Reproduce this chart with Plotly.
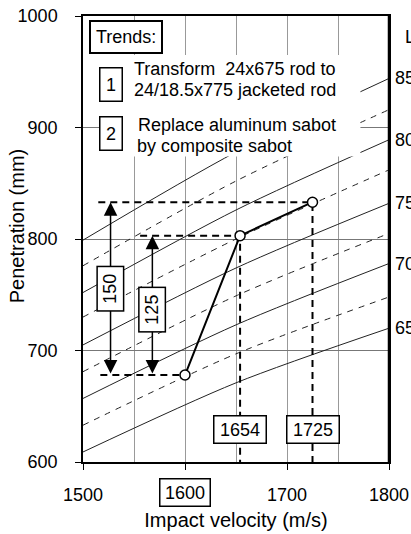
import plotly.graph_objects as go

# iso rod-length curves: penetration (mm) read at 1500 / 1650 / 1800 m/s
curve_velocity = [1500, 1650, 1800]
rod_lengths = [850, 825, 800, 775, 750, 725, 700, 675, 650]
curve_penetration = [
    [799, 878, 944],
    [776, 852, 916],
    [752, 826, 889],
    [730, 800, 862],
    [705, 774, 832],
    [681, 749, 805],
    [657, 723, 778],
    [633, 697, 748],
    [609, 671, 720],
]

# the three design points
impact_velocity = [1600, 1654, 1725]
penetration = [678, 803, 833]

# gains shown with the double arrows
gain_labels = ["150", "125"]
gain_top = [833, 803]
gain_x = [1527, 1568]

x_ticks = [1500, 1600, 1700, 1800]
y_ticks = [600, 700, 800, 900, 1000]

FONT = "Liberation Sans, Arial, sans-serif"

fig = go.Figure()

# iso-length curves, solid every 50 mm, dashed in between
for length, pen in zip(rod_lengths, curve_penetration):
    fig.add_trace(go.Scatter(
        x=curve_velocity, y=pen, mode="lines",
        line=dict(color="#222", width=1, shape="spline", smoothing=0.8,
                  dash="solid" if length % 50 == 0 else "6px,6px"),
        hoverinfo="skip",
    ))

# dashed guide lines from the points
base_y = penetration[0]
fig.add_trace(go.Scatter(
    x=[1517, impact_velocity[0]], y=[base_y, base_y], mode="lines",
    line=dict(color="black", width=2, dash="7px,5px"), hoverinfo="skip"))
fig.add_trace(go.Scatter(
    x=[1556, impact_velocity[1], impact_velocity[1]],
    y=[penetration[1], penetration[1], 600], mode="lines",
    line=dict(color="black", width=2, dash="7px,5px"), hoverinfo="skip"))
fig.add_trace(go.Scatter(
    x=[1515, impact_velocity[2], impact_velocity[2]],
    y=[penetration[2], penetration[2], 600], mode="lines",
    line=dict(color="black", width=2, dash="7px,5px"), hoverinfo="skip"))

# trend line with open circles
fig.add_trace(go.Scatter(
    x=impact_velocity, y=penetration, mode="lines+markers",
    line=dict(color="black", width=2),
    marker=dict(symbol="circle", size=10, color="white",
                line=dict(color="black", width=1.5)),
    hoverinfo="skip",
))

# white area behind the trend notes
fig.add_shape(type="rect", x0=1518, x1=1772, y0=874, y1=965,
              xref="x", yref="y", fillcolor="white", line_width=0,
              layer="above")
# heavier right frame
fig.add_shape(type="line", x0=1, x1=1, y0=0, y1=1, xref="paper",
              yref="paper", line=dict(color="black", width=2.5))

annotations = []

# double arrows and their boxed values
for gx, top in zip(gain_x, gain_top):
    annotations.append(dict(
        x=gx, y=top, ax=gx, ay=base_y, xref="x", yref="y",
        axref="x", ayref="y", text="", showarrow=True,
        arrowhead=2, startarrowhead=2, arrowside="end+start",
        arrowsize=1.8, startarrowsize=1.8, arrowwidth=1.5,
        arrowcolor="black"))
for gx, y, lab in zip(gain_x, [755, 737], gain_labels):
    annotations.append(dict(
        x=gx, y=y, xref="x", yref="y", text=lab, textangle=-90,
        showarrow=False, bgcolor="white", bordercolor="black",
        borderwidth=1.5, borderpad=3, width=37, height=19,
        font=dict(size=18)))

# boxed velocities
for v in impact_velocity[1:]:
    annotations.append(dict(
        x=v, y=629.6, xref="x", yref="y", text=str(v), showarrow=False,
        bgcolor="white", bordercolor="black", borderwidth=1.5,
        borderpad=2, width=47, height=22, font=dict(size=18)))
annotations.append(dict(
    x=impact_velocity[0], y=-0.0695, xref="x", yref="paper",
    yanchor="middle", text=str(impact_velocity[0]), showarrow=False,
    bgcolor="white", bordercolor="black", borderwidth=1.5, borderpad=2,
    width=45, height=22, font=dict(size=18)))

# trend notes
annotations += [
    dict(x=1542.5, y=981.6, xref="x", yref="y", text="Trends:",
         showarrow=False, bgcolor="white", bordercolor="black",
         borderwidth=2, borderpad=5, font=dict(size=18)),
    dict(x=1527.3, y=938.6, xref="x", yref="y", text="1", showarrow=False,
         bgcolor="white", bordercolor="black", borderwidth=1.5,
         borderpad=2, width=17, height=28, font=dict(size=18)),
    dict(x=1527.3, y=894.2, xref="x", yref="y", text="2", showarrow=False,
         bgcolor="white", bordercolor="black", borderwidth=1.5,
         borderpad=2, width=17, height=28, font=dict(size=18)),
    dict(x=1548.5, y=952.5, xref="x", yref="y", xanchor="left",
         text="Transform  24x675 rod to", showarrow=False,
         font=dict(size=18)),
    dict(x=1548.5, y=933.2, xref="x", yref="y", xanchor="left",
         text="24/18.5x775 jacketed rod", showarrow=False,
         font=dict(size=18)),
    dict(x=1552, y=902.2, xref="x", yref="y", xanchor="left",
         text="Replace aluminum sabot", showarrow=False, bgcolor="white",
         font=dict(size=18)),
    dict(x=1551, y=883.4, xref="x", yref="y", xanchor="left",
         text="by composite sabot", showarrow=False, font=dict(size=18)),
]

# rod length labels on the right (cut by the page edge, as in the original)
annotations.append(dict(x=1.046, y=981, xref="paper", yref="y",
                        xanchor="left", text="L (mm)", showarrow=False,
                        font=dict(size=18)))
for length, pen in zip(rod_lengths, curve_penetration):
    if length % 50 == 0:
        annotations.append(dict(
            x=1.013, y=pen[-1], xref="paper", yref="y", xanchor="left",
            text=str(length), showarrow=False, font=dict(size=18)))

# y axis title
annotations.append(dict(
    x=-0.215, y=0.529, xref="paper", yref="paper", xanchor="center",
    yanchor="middle", text="Penetration (mm)", textangle=-90,
    showarrow=False, font=dict(size=20)))

fig.update_layout(
    width=411, height=534,
    margin=dict(l=83, r=22, t=16, b=72),
    plot_bgcolor="white", paper_bgcolor="white",
    showlegend=False,
    font=dict(family=FONT, size=18, color="black"),
    annotations=annotations,
)
fig.update_xaxes(
    range=[1500, 1800], tickvals=x_ticks,
    ticktext=[str(t) if t != 1600 else " " for t in x_ticks],
    showgrid=True, gridcolor="#999", gridwidth=1,
    minor=dict(tickvals=[1550, 1650, 1750], showgrid=True,
               gridcolor="#999", gridwidth=1, ticks=""),
    ticks="outside", ticklen=6, tickcolor="black",
    showline=True, mirror=True, linecolor="black", linewidth=1.5,
    zeroline=False, ticklabelstandoff=10, automargin=False,
    title=dict(text="Impact velocity (m/s)", font=dict(size=20), standoff=9),
)
fig.update_yaxes(
    range=[600, 1000], tickvals=y_ticks,
    showgrid=True, gridcolor="#777", gridwidth=1,
    ticks="outside", ticklen=6, tickcolor="black",
    showline=True, mirror=True, linecolor="black", linewidth=1.5,
    zeroline=False, ticklabelstandoff=14, automargin=False,
)

# the page margin would push the figure off the window
fig.write_html("out.html", config={"displayModeBar": False},
               post_script="document.body.style.margin='0';")
